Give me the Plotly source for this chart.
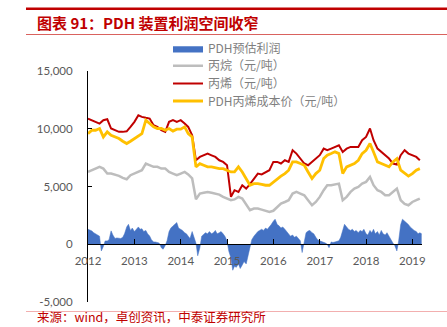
import pandas as pd
import plotly.graph_objects as go

# ---------------- data ----------------
line_dates = pd.date_range("2012-01-01", periods=87, freq="MS")

propane = [6260, 6410, 6550, 6700, 6550, 6120, 6120, 6030, 5920, 5740, 5630, 5980,
           6120, 6260, 6410, 6990, 6840, 6700, 6700, 6550, 6550, 6260, 6120, 5980,
           6120, 6260, 6050, 5700, 3900, 4390, 4460, 4530, 4460, 4390, 4300, 4100,
           3960, 3810, 3880, 4100, 3960, 3400, 2950, 3090, 3090, 3000, 2900, 2800,
           2900, 3230, 3520, 3660, 3810, 4390, 4530, 4390, 4240, 3810, 3380, 3660,
           4100, 4680, 5110, 5110, 5180, 5250, 3810, 4100, 4530, 4820, 4970, 5250,
           5400, 5830, 5110, 4680, 4530, 4240, 4240, 4530, 4820, 3810, 3500, 3380,
           3660, 3810, 3960]

propylene = [10880, 10740, 10600, 10450, 10740, 10820, 10020, 9870, 9730, 9730, 9780, 10160,
             10600, 11170, 11030, 10950, 10880, 10300, 10160, 9870, 9730, 10600, 10740, 10600,
             10740, 10450, 10160, 9440, 7270, 7560, 7700, 7850, 7700, 7560, 7270, 7130,
             6840, 4100, 4680, 4530, 5100, 4820, 5200, 5690, 6120, 6050, 6260, 6410,
             7130, 7130, 6990, 7270, 7130, 8140, 7850, 7420, 6990, 6840, 7130, 7420,
             7710, 8280, 8140, 8280, 8430, 8570, 7990, 8280, 8430, 8430, 8430, 9010,
             9290, 10020, 9010, 8280, 7990, 7710, 7420, 6990, 6900, 7710, 8140, 7850,
             7710, 7560, 7270]

pdh_cost = [9580, 9870, 9870, 10020, 9290, 9730, 9440, 9290, 9150, 8920, 8720, 8920,
            9150, 9440, 9580, 10740, 10450, 10160, 10020, 10020, 9870, 10020, 9800, 9960,
            9960, 10160, 9580, 9290, 6700, 6980, 6840, 6700, 6700, 6600, 6550, 6550,
            6400, 6260, 6260, 6700, 6260, 5690, 5110, 5250, 5250, 5180, 5110, 5110,
            5400, 5690, 5900, 6120, 6410, 7130, 7130, 6990, 6840, 6260, 5690, 6120,
            6410, 7420, 7710, 7850, 8000, 7850, 6120, 6700, 6840, 6990, 7270, 7850,
            8140, 8720, 7990, 7130, 6990, 6840, 6700, 7130, 7420, 6410, 6120, 5900,
            6120, 6410, 6550]

profit_dates = pd.date_range("2012-01-01", periods=174, freq="SMS")
profit = [1300, 1250, 1150, 1000, 900, 800, 700, -580, -200, 290, 290, 400,
          1160, 800, 500, 550, 550, 500, 600, 900, 1500, 1730, 1200, 1400,
          1100, 1300, 1500, 1300, 1350, 1100, 1200, 900, 720, 400, 200, 200,
          150, 100, -300, -430, -100, 300, 1100, 1400, 1590, 1700, 1880, 1400,
          1300, 1200, 1000, 900, 700, 500, 1100, 600, 100, -1000, -300, 700,
          900, 1000, 900, 1100, 900, 1000, 1200, 900, 1000, 1100, 900, 700,
          300, -600, -1200, -2250, -1900, -2000, -1700, -2100, -1800, -1500, -1700, -1000,
          0, 400, 700, 900, 1100, 1200, 1300, 1200, 1400, 1300, 1500, 1700,
          2000, 2170, 1700, 1600, 1400, 1500, 1300, 1100, 900, 700, 800, 600,
          700, 500, 300, -720, 300, 1000, 1150, 1200, 1000, 900, 600, 400,
          300, 250, 200, 100, 0, -300, 200, 150, 200, 250, 300, 600,
          1200, 1730, 1500, 1300, 1200, 1300, 1100, 1200, 1000, 1200, 1100, 1300,
          900, 800, 1200, 1000, 1300, 900, 1100, 800, 1200, 900, 800, 1000,
          700, 400, 100, -100, -580, 300, 1700, 2170, 2000, 1900, 1700, 1500,
          1300, 1200, 1100, 900, 1000, 900]

year_ticks = ["2012-01-01", "2013-01-01", "2014-01-01", "2015-01-01",
              "2016-01-01", "2017-01-01", "2018-01-01", "2019-01-01"]
year_labels = ["2012", "2013", "2014", "2015", "2016", "2017", "2018", "2019"]
y_ticks = [-5000, 0, 5000, 10000, 15000]
y_labels = ["-5,000", "0", "5,000", "10,000", "15,000"]

names = ["PDH预估利润", "丙烷（元/吨）", "丙烯（元/吨）", "PDH丙烯成本价（元/吨）"]

# ---------------- figure ----------------
W, H = 447, 327
ML, MR, MT, MB = 88, 25, 71, 25
PW, PH = W - ML - MR, H - MT - MB


def px_x(p):
    return (p - ML) / PW


def px_y(p):
    return (H - MB - p) / PH


fig = go.Figure()
fig.add_trace(go.Scatter(x=profit_dates, y=profit, name=names[0], mode="lines",
                         line=dict(color="#4472C4", width=0.5), fill="tozeroy",
                         fillcolor="#4472C4", legend="legend"))
fig.add_trace(go.Scatter(x=line_dates, y=propane, name=names[1], mode="lines",
                         line=dict(color="#BDBDBD", width=2.5), legend="legend2"))
fig.add_trace(go.Scatter(x=line_dates, y=propylene, name=names[2], mode="lines",
                         line=dict(color="#C00000", width=2), legend="legend3"))
fig.add_trace(go.Scatter(x=line_dates, y=pdh_cost, name=names[3], mode="lines",
                         line=dict(color="#FFC000", width=2.8), legend="legend4"))

tick_font = dict(family="Lato, 'Noto Sans CJK SC', sans-serif", size=11.5, color="#595959")
legend_font = dict(family="'Noto Sans CJK SC', sans-serif", size=12, color="#7F7F7F")


def legend_at(row_center):
    return dict(x=px_x(168), y=px_y(row_center - 11), xanchor="left", yanchor="top",
                font=legend_font, bgcolor="rgba(0,0,0,0)", itemwidth=30)


fig.update_layout(
    width=W, height=H,
    margin=dict(l=ML, r=MR, t=MT, b=MB, pad=0),
    paper_bgcolor="white", plot_bgcolor="white",
    showlegend=True,
    legend=legend_at(45),
    legend2=legend_at(62.3),
    legend3=legend_at(80),
    legend4=legend_at(97.5),
    xaxis=dict(type="date", range=["2012-01-01", "2019-03-18"],
               tickvals=year_ticks, ticktext=year_labels,
               anchor="free", position=0.25,
               showline=True, linecolor="#000000", linewidth=1,
               ticks="inside", ticklen=5, tickcolor="#000000",
               showgrid=False, zeroline=False, tickfont=tick_font,
               ticklabelstandoff=6),
    yaxis=dict(range=[-5000, 15000], tickvals=y_ticks, ticktext=y_labels,
               showline=True, linecolor="#000000", linewidth=1,
               ticks="inside", ticklen=4, tickcolor="#000000",
               showgrid=False, zeroline=False, tickfont=tick_font,
               ticklabelstandoff=12),
)

shapes = [
    dict(type="line", xref="paper", yref="paper", x0=px_x(26), x1=px_x(447),
         y0=px_y(8.7), y1=px_y(8.7), line=dict(color="#C00000", width=2.6)),
    dict(type="line", xref="paper", yref="paper", x0=px_x(26), x1=px_x(447),
         y0=px_y(34.5), y1=px_y(34.5), line=dict(color="#D9625E", width=1)),
    dict(type="line", xref="paper", yref="paper", x0=px_x(26), x1=px_x(447),
         y0=px_y(311.5), y1=px_y(311.5), line=dict(color="#F2AFAF", width=1)),
]
fig.update_layout(shapes=shapes)

fig.add_annotation(xref="paper", yref="paper", x=px_x(35), y=px_y(23),
                   xanchor="left", yanchor="middle", showarrow=False,
                   text="<b>图表 91：PDH 装置利润空间收窄</b>",
                   font=dict(family="'Noto Sans CJK SC', sans-serif", size=15, color="#C00000"))
fig.add_annotation(xref="paper", yref="paper", x=px_x(36), y=px_y(327),
                   xanchor="left", yanchor="bottom", showarrow=False, borderpad=0,
                   text="来源：wind，卓创资讯，中泰证券研究所",
                   font=dict(family="'Noto Sans CJK SC', sans-serif", size=12.5, color="#C00000"))

fig.write_html("out.html")
